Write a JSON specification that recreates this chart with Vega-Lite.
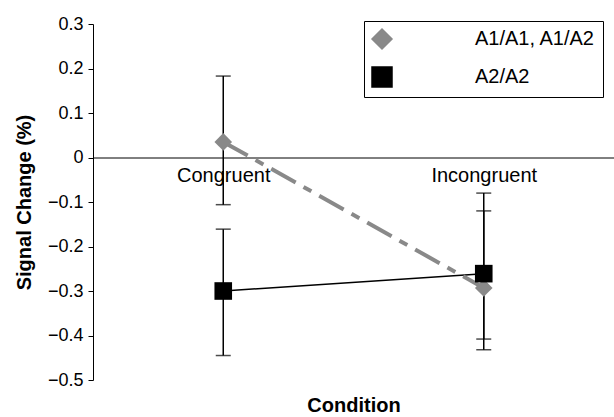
{
  "$schema": "https://vega.github.io/schema/vega-lite/v6.json",
  "width": 521,
  "height": 356,
  "autosize": "none",
  "padding": {"left": 93, "top": 24, "right": 0, "bottom": 37},
  "background": "white",
  "config": {
    "view": {"stroke": null},
    "font": "Liberation Sans",
    "axis": {
      "labelFont": "Liberation Sans",
      "titleFont": "Liberation Sans",
      "labelColor": "black",
      "titleColor": "black",
      "domainColor": "black",
      "tickColor": "black",
      "grid": false
    },
    "legend": {"labelFont": "Liberation Sans"}
  },
  "data": {
    "values": [
      {"group": "A1/A1, A1/A2", "condition": "Congruent", "mean": 0.035, "lo": -0.106, "hi": 0.183},
      {"group": "A1/A1, A1/A2", "condition": "Incongruent", "mean": -0.293, "lo": -0.432, "hi": -0.08},
      {"group": "A2/A2", "condition": "Congruent", "mean": -0.3, "lo": -0.445, "hi": -0.161},
      {"group": "A2/A2", "condition": "Incongruent", "mean": -0.261, "lo": -0.408, "hi": -0.12}
    ]
  },
  "encoding": {
    "x": {
      "field": "condition",
      "type": "nominal",
      "scale": {"type": "point", "padding": 0.5, "domain": ["Congruent", "Incongruent"]},
      "axis": {
        "orient": "bottom",
        "offset": -222.5,
        "ticks": false,
        "labelAngle": 0,
        "labelPadding": 8,
        "labelFontSize": 20,
        "title": "Condition",
        "titleFontSize": 20,
        "titleFontWeight": "bold",
        "titleBaseline": "alphabetic",
        "titleY": 254
      }
    }
  },
  "layer": [
    {
      "transform": [{"filter": "datum.group === 'A2/A2'"}],
      "mark": {"type": "line", "strokeWidth": 1.5},
      "encoding": {
        "y": {
          "field": "mean",
          "type": "quantitative",
          "scale": {"domain": [-0.5, 0.3], "nice": false, "zero": false},
          "axis": {
            "values": [-0.5, -0.4, -0.3, -0.2, -0.1, 0, 0.1, 0.2, 0.3],
            "labelExpr": "datum.value < 0 ? '\u2212' + format(-datum.value, '.1f') : format(datum.value, '.1~f')",
            "labelFontSize": 18,
            "labelPadding": 5,
            "tickSize": 5,
            "title": "Signal Change (%)",
            "titleFontSize": 20,
            "titleFontWeight": "bold",
            "titlePadding": 13
          }
        },
        "color": {
          "field": "group",
          "type": "nominal",
          "scale": {"domain": ["A1/A1, A1/A2", "A2/A2"], "range": ["#898989", "#000000"]},
          "legend": {
            "title": null,
            "orient": "none",
            "legendX": 271,
            "legendY": -3,
            "padding": 7,
            "strokeColor": "black",
            "fillColor": "white",
            "symbolSize": 400,
            "labelFontSize": 20,
            "labelColor": "black",
            "labelOffset": 82,
            "rowPadding": 12,
            "encode": {
              "symbols": {
                "update": {
                  "shape": {"value": {"expr": "datum.value === 'A2/A2' ? 'M-0.4,0L7.9,0M3.37,-0.43L4.23,-0.43L4.23,0.43L3.37,0.43Z' : 'M-0.4,-0.2L3.1,-0.2L3.1,0.2L-0.4,0.2ZM6.6,-0.2L7.9,-0.2L7.9,0.2L6.6,0.2ZM3.8,-0.62L4.42,0L3.8,0.62L3.18,0Z'"}},
                  "strokeWidth": {"value": 1.5},
                  "stroke": {"value": {"expr": "datum.value === 'A2/A2' ? '#000000' : 'transparent'"}},
                  "fill": {"value": {"expr": "datum.value === 'A2/A2' ? '#000000' : '#898989'"}},
                  "opacity": {"value": 1}
                }
              }
            }
          }
        }
      }
    },
    {
      "transform": [{"filter": "datum.group !== 'A2/A2'"}],
      "mark": {"type": "line", "strokeWidth": 4, "strokeDash": [28, 9, 9, 9]},
      "encoding": {
        "y": {"field": "mean", "type": "quantitative"},
        "color": {"field": "group", "type": "nominal", "legend": null}
      }
    },
    {
      "mark": {"type": "rule", "color": "black", "strokeWidth": 1.5},
      "encoding": {
        "y": {"field": "lo", "type": "quantitative"},
        "y2": {"field": "hi"}
      }
    },
    {
      "mark": {"type": "tick", "color": "black", "thickness": 1.5, "size": 15, "orient": "horizontal"},
      "encoding": {"y": {"field": "lo", "type": "quantitative"}}
    },
    {
      "mark": {"type": "tick", "color": "black", "thickness": 1.5, "size": 15, "orient": "horizontal"},
      "encoding": {"y": {"field": "hi", "type": "quantitative"}}
    },
    {
      "mark": {"type": "point", "filled": true, "opacity": 1, "size": 310},
      "encoding": {
        "y": {"field": "mean", "type": "quantitative"},
        "shape": {
          "field": "group",
          "type": "nominal",
          "scale": {"domain": ["A1/A1, A1/A2", "A2/A2"], "range": ["diamond", "square"]},
          "legend": null
        },
        "color": {"field": "group", "type": "nominal", "legend": null}
      }
    }
  ]
}
